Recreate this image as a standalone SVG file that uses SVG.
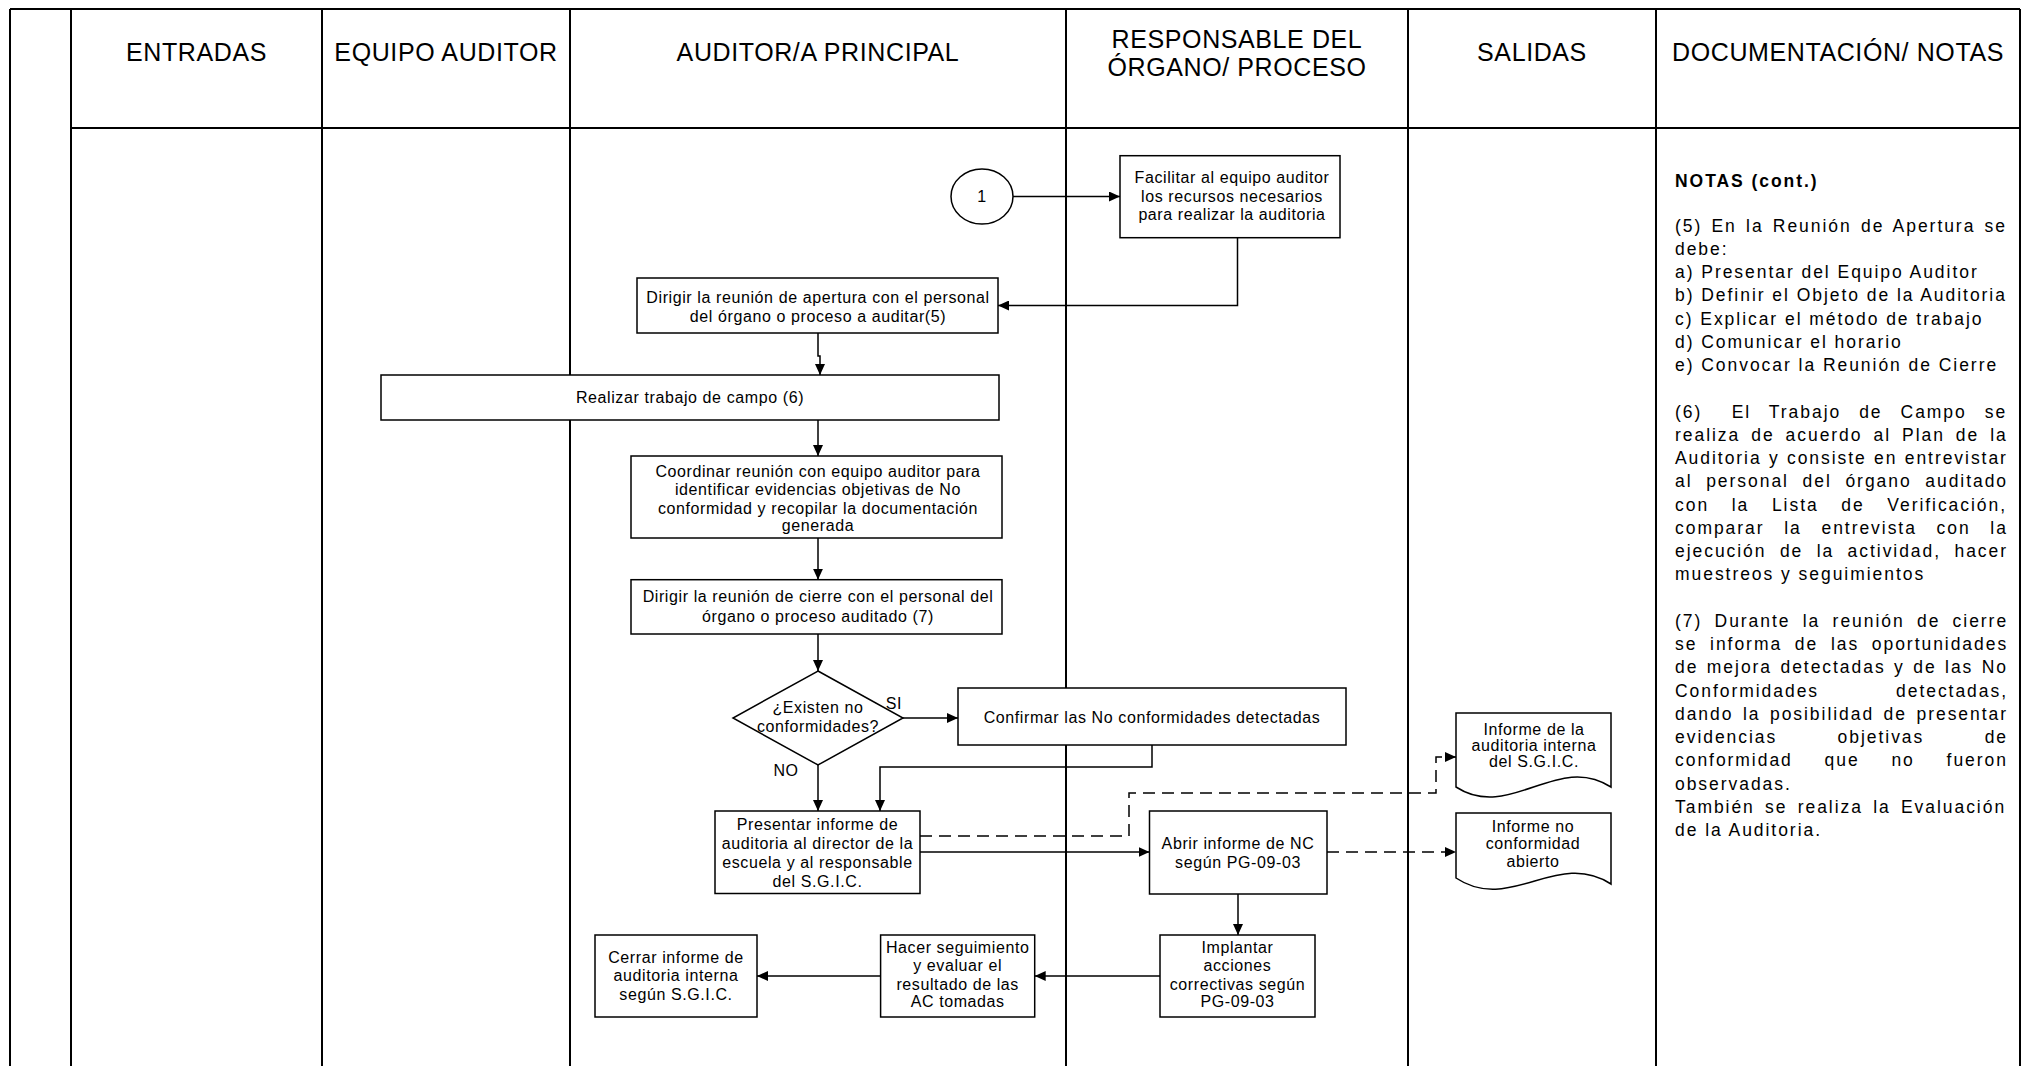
<svg xmlns="http://www.w3.org/2000/svg" width="2027" height="1066" viewBox="0 0 2027 1066">
<defs>
<style>
.fr{stroke:#000;stroke-width:2;fill:none}
.bx{fill:#fff;stroke:#000;stroke-width:1.5}
.t{font-family:"Liberation Sans",Arial,sans-serif;font-size:16px;letter-spacing:0.6px;text-anchor:middle;fill:#000}
.h{font-family:"Liberation Sans",Arial,sans-serif;font-size:25px;letter-spacing:0.6px;text-anchor:middle;fill:#000}
.n{font-family:"Liberation Sans",Arial,sans-serif;font-size:17.5px;letter-spacing:1.95px;fill:#000}
.c{stroke:#000;stroke-width:1.5;fill:none}
.a{marker-end:url(#arr)}
.d{stroke-dasharray:12 7}
</style>
<marker id="arr" markerUnits="userSpaceOnUse" markerWidth="12" markerHeight="10" refX="11" refY="5" orient="auto"><path d="M0,0 L11,5 L0,10 z" fill="#000"/></marker>
</defs>
<rect width="2027" height="1066" fill="#fff"/>
<g id="lanes">
<path class="fr" d="M10,9 H2020 M10,9 V1066 M71,9 V1066 M322,9 V1066 M570,9 V1066 M1066,9 V1066 M1408,9 V1066 M1656,9 V1066 M2020,9 V1066 M71,128 H2020"/>
<text class="h" x="196.5" y="61">ENTRADAS</text>
<text class="h" x="446" y="61">EQUIPO AUDITOR</text>
<text class="h" x="818" y="61">AUDITOR/A PRINCIPAL</text>
<text class="h" x="1237" y="47.8">RESPONSABLE DEL</text>
<text class="h" x="1237" y="76.2">ÓRGANO/ PROCESO</text>
<text class="h" x="1532" y="61">SALIDAS</text>
<text class="h" x="1838" y="61">DOCUMENTACIÓN/ NOTAS</text>
</g>
<g id="connectors">
<path class="c a" d="M1013,196.5 H1120"/>
<path class="c a" d="M1237.5,237.7 V305.5 H998"/>
<path class="c a" d="M818,333 V356 H820 V375"/>
<path class="c a" d="M818,420 V456"/>
<path class="c a" d="M818,538 V579.7"/>
<path class="c a" d="M818,634 V671"/>
<path class="c a" d="M903,718 H958"/>
<path class="c a" d="M1152,745 V767 H880 V811"/>
<path class="c a" d="M818,765 V811"/>
<path class="c a" d="M920,852 H1149.5"/>
<path class="c d a" d="M920,836 H1129 V793 H1436 V757 H1456"/>
<path class="c d a" d="M1327,852 H1456"/>
<path class="c a" d="M1238,894 V935"/>
<path class="c a" d="M1160,976 H1034.7"/>
<path class="c a" d="M880.6,976 H757"/>
<text class="t" x="894" y="709">SI</text>
<text class="t" x="786" y="776">NO</text>
</g>
<g id="n1">
<ellipse class="bx" cx="982" cy="196.5" rx="31" ry="27.5"/>
<text class="t" x="982" y="202">1</text>
</g>
<g id="facilitar">
<rect class="bx" x="1120" y="155.7" width="220" height="82"/>
<text class="t" x="1232" y="182.5">Facilitar al equipo auditor</text>
<text class="t" x="1232" y="201.5">los recursos necesarios</text>
<text class="t" x="1232" y="220">para realizar la auditoria</text>
</g>
<g id="apertura">
<rect class="bx" x="637" y="278" width="361" height="55"/>
<text class="t" x="818" y="302.7">Dirigir la reunión de apertura con el personal</text>
<text class="t" x="818" y="321.7">del órgano o proceso a auditar(5)</text>
</g>
<g id="campo">
<rect class="bx" x="381" y="375" width="618" height="45"/>
<text class="t" x="690" y="403">Realizar trabajo de campo (6)</text>
</g>
<g id="coordinar">
<rect class="bx" x="631" y="456" width="371" height="82"/>
<text class="t" x="818" y="476.5">Coordinar reunión con equipo auditor para</text>
<text class="t" x="818" y="495">identificar evidencias objetivas de No</text>
<text class="t" x="818" y="513.5">conformidad y recopilar la documentación</text>
<text class="t" x="818" y="531">generada</text>
</g>
<g id="cierre">
<rect class="bx" x="631" y="579.7" width="371" height="54.3"/>
<text class="t" x="818" y="601.5">Dirigir la reunión de cierre con el personal del</text>
<text class="t" x="818" y="621.5">órgano o proceso auditado (7)</text>
</g>
<g id="decision">
<polygon class="bx" points="818,671 903,718 818,765 733,718"/>
<text class="t" x="818" y="712.5">¿Existen no</text>
<text class="t" x="818" y="732">conformidades?</text>
</g>
<g id="confirmar">
<rect class="bx" x="958" y="688" width="388" height="57"/>
<text class="t" x="1152" y="722.5">Confirmar las No conformidades detectadas</text>
</g>
<g id="presentar">
<rect class="bx" x="715" y="811" width="205" height="82.5"/>
<text class="t" x="817.5" y="830">Presentar informe de</text>
<text class="t" x="817.5" y="849.3">auditoria al director de la</text>
<text class="t" x="817.5" y="868.3">escuela y al responsable</text>
<text class="t" x="817.5" y="886.7">del S.G.I.C.</text>
</g>
<g id="abrir">
<rect class="bx" x="1149.5" y="811" width="177.5" height="83"/>
<text class="t" x="1238" y="849.3">Abrir informe de NC</text>
<text class="t" x="1238" y="868.3">según PG-09-03</text>
</g>
<g id="implantar">
<rect class="bx" x="1160" y="935" width="155" height="82"/>
<text class="t" x="1237.5" y="953.3">Implantar</text>
<text class="t" x="1237.5" y="970.7">acciones</text>
<text class="t" x="1237.5" y="990">correctivas según</text>
<text class="t" x="1237.5" y="1007.3">PG-09-03</text>
</g>
<g id="hacer">
<rect class="bx" x="880.6" y="935" width="154.1" height="82"/>
<text class="t" x="957.7" y="953.3">Hacer seguimiento</text>
<text class="t" x="957.7" y="970.7">y evaluar el</text>
<text class="t" x="957.7" y="990">resultado de las</text>
<text class="t" x="957.7" y="1007.3">AC tomadas</text>
</g>
<g id="cerrar">
<rect class="bx" x="595" y="935" width="162" height="82"/>
<text class="t" x="676" y="963.3">Cerrar informe de</text>
<text class="t" x="676" y="981">auditoria interna</text>
<text class="t" x="676" y="1000">según S.G.I.C.</text>
</g>
<g id="doc1">
<path class="bx" d="M1456,713 H1611 V787 C1557,752 1510,822 1456,787 Z"/>
<text class="t" x="1534" y="734.5">Informe de la</text>
<text class="t" x="1534" y="751">auditoria interna</text>
<text class="t" x="1534" y="767">del S.G.I.C.</text>
</g>
<g id="doc2">
<path class="bx" d="M1456,813 H1611 V884 C1557,849 1510,914 1456,878 Z"/>
<text class="t" x="1533" y="832">Informe no</text>
<text class="t" x="1533" y="848.5">conformidad</text>
<text class="t" x="1533" y="867">abierto</text>
</g>
<g id="notas">
<text class="n" x="1675" y="187" font-weight="bold">NOTAS (cont.)</text>
<text class="n" x="1675" y="231.5" word-spacing="2.45">(5) En la Reunión de Apertura se</text>
<text class="n" x="1675" y="254.75">debe:</text>
<text class="n" x="1675" y="278">a) Presentar del Equipo Auditor</text>
<text class="n" x="1675" y="301.25">b) Definir el Objeto de la Auditoria</text>
<text class="n" x="1675" y="324.5">c) Explicar el método de trabajo</text>
<text class="n" x="1675" y="347.75">d) Comunicar el horario</text>
<text class="n" x="1675" y="371">e) Convocar la Reunión de Cierre</text>
<text class="n" y="417.5"><tspan x="1675">(6)</tspan><tspan x="1731.7" word-spacing="11.2">El Trabajo de Campo se</tspan></text>
<text class="n" x="1675" y="440.75" word-spacing="4.2">realiza de acuerdo al Plan de la</text>
<text class="n" x="1675" y="464" word-spacing="0.5">Auditoria y consiste en entrevistar</text>
<text class="n" x="1675" y="487.25" word-spacing="6.85">al personal del órgano auditado</text>
<text class="n" x="1675" y="510.5" word-spacing="15.85">con la Lista de Verificación,</text>
<text class="n" x="1675" y="533.75" word-spacing="12.9">comparar la entrevista con la</text>
<text class="n" x="1675" y="557" word-spacing="6.6">ejecución de la actividad, hacer</text>
<text class="n" x="1675" y="580.25">muestreos y seguimientos</text>
<text class="n" x="1675" y="626.75" word-spacing="5.5">(7) Durante la reunión de cierre</text>
<text class="n" x="1675" y="650" word-spacing="5.9">se informa de las oportunidades</text>
<text class="n" x="1675" y="673.25" word-spacing="1.65">de mejora detectadas y de las No</text>
<text class="n" x="1675" y="696.5" word-spacing="70.2">Conformidades detectadas,</text>
<text class="n" x="1675" y="719.75" word-spacing="2.7">dando la posibilidad de presentar</text>
<text class="n" x="1675" y="743" word-spacing="53.6">evidencias objetivas de</text>
<text class="n" x="1675" y="766.25" word-spacing="25">conformidad que no fueron</text>
<text class="n" x="1675" y="789.5">observadas.</text>
<text class="n" x="1675" y="812.75" word-spacing="3.45">También se realiza la Evaluación</text>
<text class="n" x="1675" y="836">de la Auditoria.</text>
</g>
</svg>
